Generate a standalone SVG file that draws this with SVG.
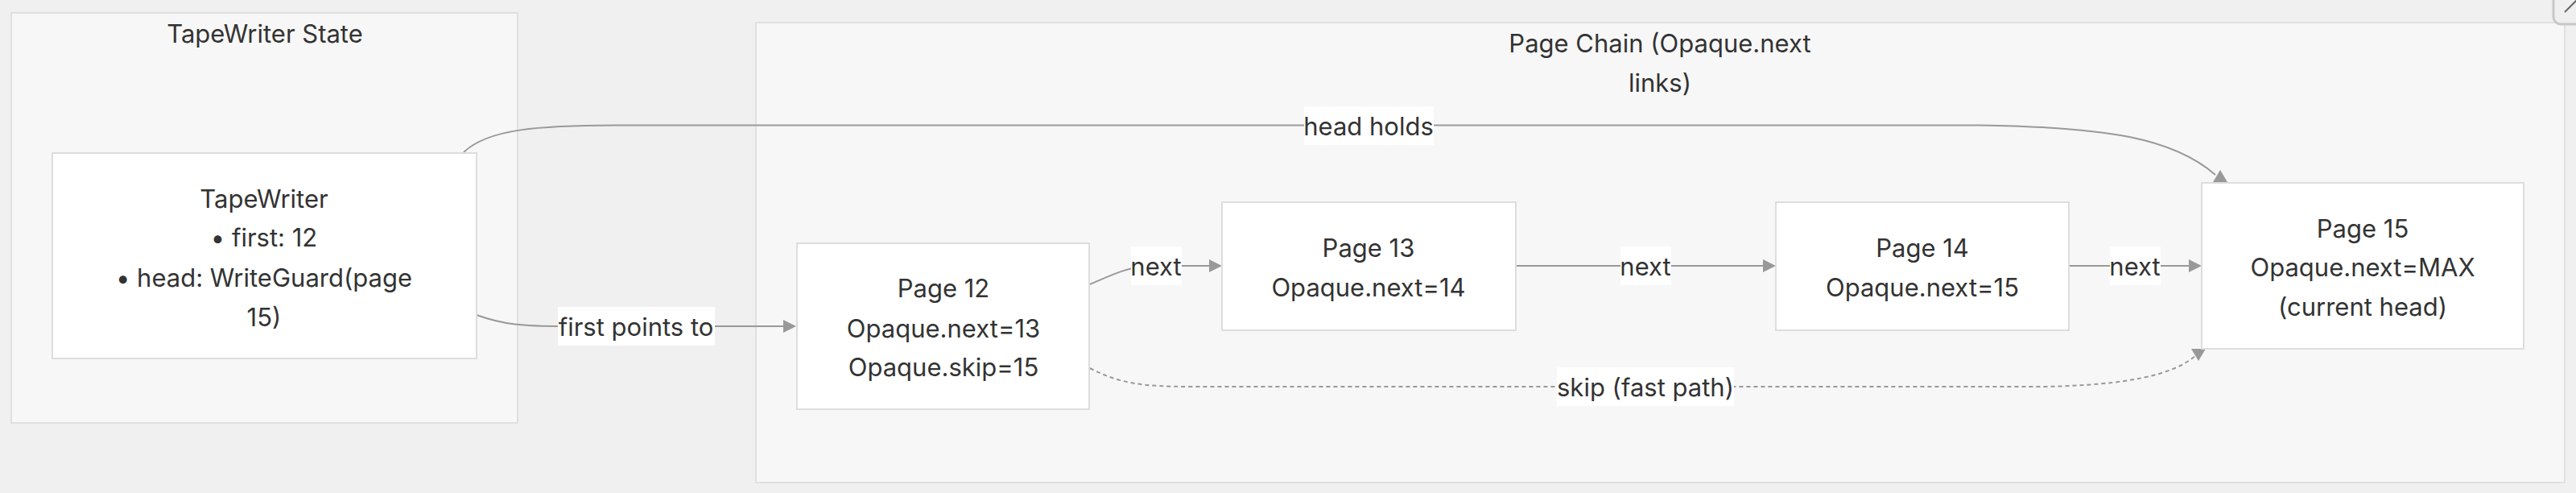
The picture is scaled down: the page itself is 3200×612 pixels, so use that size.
<svg xmlns="http://www.w3.org/2000/svg" width="3200" height="612" viewBox="0 0 3200 612">
<style>
.bg{fill:#f0f0f0}
.cluster{fill:#f7f7f7;stroke:#e0e0e0;stroke-width:2}
.node{fill:#ffffff;stroke:#dddddd;stroke-width:2}
text{font-family:Inter,"Liberation Sans",sans-serif;font-size:31px;fill:#333333;text-anchor:middle;dominant-baseline:central}
.edge{fill:none;stroke:#999999;stroke-width:2}
.dotted{stroke-dasharray:5 4}
.arrow{fill:#999999}
.lbl{fill:#ffffff}
</style>
<rect class="bg" x="0" y="0" width="3200" height="612"/>
<g id="cluster-state">
<rect class="cluster" x="14" y="16" width="629" height="509"/>
<text x="329" y="41">TapeWriter State</text>
</g>
<g id="cluster-chain">
<rect class="cluster" x="939" y="28" width="2247" height="571"/>
<text x="2062" y="53">Page Chain (Opaque.next</text>
<text x="2062" y="102">links)</text>
</g>
<g id="corner-button">
<rect x="3172" y="-30" width="60" height="60" rx="9" fill="#efefef" stroke="#c8c8c8" stroke-width="3"/>
<line x1="3186" y1="15" x2="3201" y2="0" stroke="#666666" stroke-width="2"/>
</g>
<g id="connectors">
<path class="edge" d="M576,189 C606,160 670,155.5 770,155.5 L2460,155.5 C2620,158 2700,172 2752,217"/>
<polygon class="arrow" points="2758,211 2749,226 2767,226"/>
<path class="edge" d="M592,391 C625,403 650,405 700,405 L974,405"/>
<polygon class="arrow" points="989,405 973,397 973,413"/>
<path class="edge" d="M1354,353 C1380,342 1400,331 1430,330 L1503,330"/>
<polygon class="arrow" points="1518,330 1502,322 1502,338"/>
<path class="edge" d="M1883,330 L2191,330"/>
<polygon class="arrow" points="2206,330 2190,322 2190,338"/>
<path class="edge" d="M2570,330 L2720,330"/>
<polygon class="arrow" points="2735,330 2719,322 2719,338"/>
<path class="edge dotted" d="M1354,457 C1390,476 1420,480 1480,480 L2540,480 C2640,478 2700,466 2728,441"/>
<polygon class="arrow" points="2722,433 2740,433 2731,448"/>
<rect class="lbl" x="1620" y="132" width="161" height="48"/>
<text x="1700" y="156">head holds</text>
<rect class="lbl" x="693" y="381" width="195" height="48"/>
<text x="790" y="405">first points to</text>
<rect class="lbl" x="1405" y="306" width="63" height="48"/>
<text x="1436" y="330">next</text>
<rect class="lbl" x="2013" y="306" width="63" height="48"/>
<text x="2044" y="330">next</text>
<rect class="lbl" x="2621" y="306" width="63" height="48"/>
<text x="2652" y="330">next</text>
<rect class="lbl" x="1934" y="456" width="220" height="48"/>
<text x="2044" y="480">skip (fast path)</text>
</g>
<g id="node-tapewriter">
<rect class="node" x="65" y="190" width="527" height="255"/>
<text x="328" y="246">TapeWriter</text>
<text x="328" y="294">• first: 12</text>
<text x="328" y="344">• head: WriteGuard(page</text>
<text x="328" y="393">15)</text>
</g>
<g id="node-page12">
<rect class="node" x="990" y="302" width="363" height="206"/>
<text x="1172" y="357">Page 12</text>
<text x="1172" y="407">Opaque.next=13</text>
<text x="1172" y="455">Opaque.skip=15</text>
</g>
<g id="node-page13">
<rect class="node" x="1518" y="251" width="365" height="159"/>
<text x="1700" y="307">Page 13</text>
<text x="1700" y="356">Opaque.next=14</text>
</g>
<g id="node-page14">
<rect class="node" x="2206" y="251" width="364" height="159"/>
<text x="2388" y="307">Page 14</text>
<text x="2388" y="356">Opaque.next=15</text>
</g>
<g id="node-page15">
<rect class="node" x="2735" y="227" width="400" height="206"/>
<text x="2935" y="283">Page 15</text>
<text x="2935" y="331">Opaque.next=MAX</text>
<text x="2935" y="380">(current head)</text>
</g>
</svg>
